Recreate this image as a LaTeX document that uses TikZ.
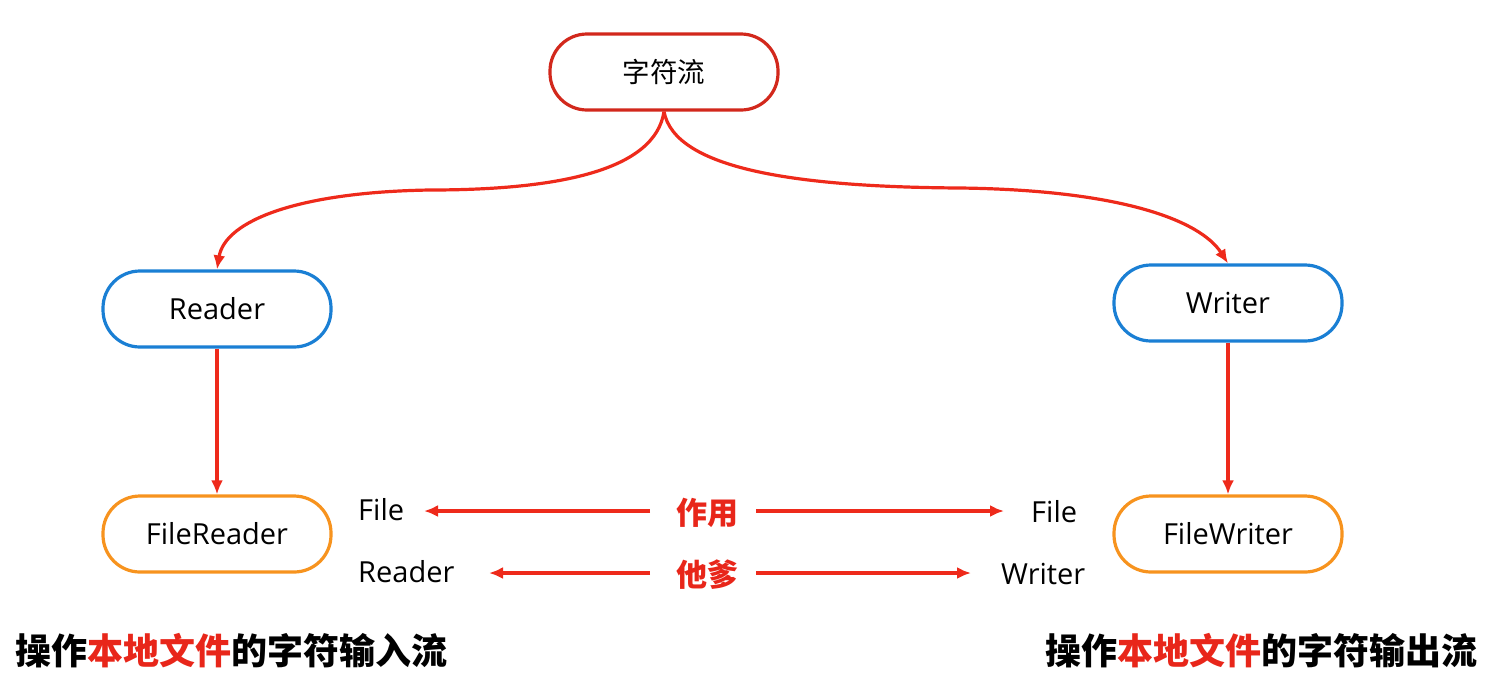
\documentclass[tikz,border=0pt]{standalone}
\usepackage{fontspec}
\setmainfont{Open Sans}
\newfontfamily\cjk{Noto Sans CJK SC}
\newfontfamily\cjkblack{Noto Sans CJK SC Black}
\usetikzlibrary{arrows.meta}
\definecolor{topred}{HTML}{D2281C}
\definecolor{boxblue}{HTML}{1A7FD4}
\definecolor{boxorange}{HTML}{F7931E}
\definecolor{arrred}{HTML}{EE2A1B}
\definecolor{txtred}{HTML}{E8261A}
\begin{document}
\begin{tikzpicture}[x=1pt,y=-1pt,
  pill/.style={draw,line width=3.2pt,rounded corners=37pt,minimum width=228pt,minimum height=76pt,inner sep=0pt,fill=white,font=\fontsize{29}{34}\selectfont},
  arr/.style={draw=arrred,line width=3.2pt,-{Latex[length=14pt,width=12pt]}},
  lbl/.style={font=\fontsize{29}{34}\selectfont,inner sep=0pt},
  mid/.style={font=\cjkblack\fontsize{31}{34}\selectfont,text=txtred,inner sep=0pt},
  big/.style={font=\cjkblack\fontsize{36}{40}\selectfont,inner sep=0pt}]
\useasboundingbox (0,0) rectangle (1506,681);
\node[pill,draw=topred,font=\cjk\fontsize{27.5}{32}\selectfont] (top) at (664,72) {字符流};
\node[pill,draw=boxblue] (reader) at (217,309) {Reader};
\node[pill,draw=boxblue] (writer) at (1228,303) {Writer};
\node[pill,draw=boxorange] (freader) at (217,534) {FileReader};
\node[pill,draw=boxorange] (fwriter) at (1228,534) {FileWriter};

\draw[arr] (top.south) .. controls (655,170) and (560,190) .. (430,190) .. controls (300,192) and (225,220) .. (reader.north);
\draw[arr] (top.south) .. controls (675,170) and (800,187) .. (960,188) .. controls (1120,190) and (1200,220) .. (writer.north);
\draw[arr] (reader.south) -- (freader.north);
\draw[arr] (writer.south) -- (fwriter.north);

\node[lbl,anchor=west] (file1) at (358,510) {File};
\node[lbl,anchor=west] (rd) at (358,572) {Reader};
\node[lbl,anchor=west] (file2) at (1031,512) {File};
\node[lbl,anchor=west] (wr) at (1001,574) {Writer};
\node[mid] (zy) at (707,513) {作用};
\node[mid] (td) at (707,575) {他爹};
\coordinate (a1) at (650,511); \coordinate (a1e) at (424,511);
\coordinate (a2) at (756,511); \coordinate (a2e) at (1004,511);
\coordinate (b1) at (650,573); \coordinate (b1e) at (489,573);
\coordinate (b2) at (756,573); \coordinate (b2e) at (971,573);
\draw[arr] (a1) -- (a1e);
\draw[arr] (a2) -- (a2e);
\draw[arr] (b1) -- (b1e);
\draw[arr] (b2) -- (b2e);

\node[big,anchor=west] (left) at (15,651) {操作{\color{txtred}本地文件}的字符输入流};
\node[big,anchor=east] (right) at (1478,651) {操作{\color{txtred}本地文件}的字符输出流};
\end{tikzpicture}
\end{document}
